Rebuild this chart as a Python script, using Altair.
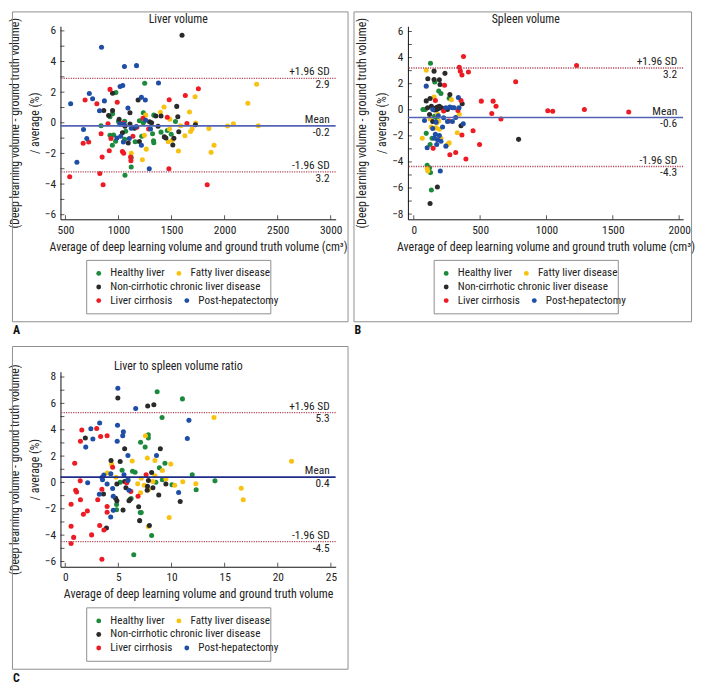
import altair as alt
import pandas as pd

FONT = "Liberation Sans Narrow, Arial Narrow, Roboto Condensed, Liberation Sans, sans-serif"

GROUP_CODES = {"H": "Healthy liver", "F": "Fatty liver disease",
               "N": "Non-cirrhotic chronic liver disease",
               "C": "Liver cirrhosis", "P": "Post-hepatectomy"}
GROUP_COLORS = {"H": "#1c8a3c", "F": "#f8c212", "N": "#2a2a2a", "C": "#ec1b24", "P": "#1f4ea6"}
LEGEND_ROWS = [["H", "F"], ["N"], ["C", "P"]]

# ---------------- Panel A: liver volume ----------------
liver_H = [(975,1.97),(1247,2.58),(944,0.59),(920,0.40),(836,-0.19),(920,-0.82),(954,-0.80),
           (942,-1.47),(973,-1.20),(1000,0.08),(1058,0.10),(1068,-0.55),(1058,-1.07),(1061,-3.42),
           (1120,-2.89),(1120,-2.26),(1197,0.13),(1234,0.65),(1234,0.00),(1157,-1.24),(1219,-0.88),
           (1321,-0.71),(1330,-1.17),(1333,-1.30),(1333,0.50),(1401,-0.61),(1460,-0.50),(1497,-0.75),
           (1537,0.08)]
liver_F = [(1429,1.03),(1395,0.69),(1256,0.50),(1244,-0.82),(1262,-1.72),(1225,-2.41),(1120,-1.99),
           (1484,0.23),(1481,-0.40),(1469,-1.24),(1509,-1.13),(1565,-1.84),(1586,-0.19),(1626,-0.84),
           (1669,0.71),(1722,1.70),(1679,-0.57),(1694,-0.40),(1728,-0.02),(1852,-0.38),(1873,-1.93),
           (1901,-1.47),(2028,-0.21),(2083,-0.06),(2219,1.28),(2302,2.52),(2318,-0.19)]
liver_N = [(1599,5.72),(944,1.93),(944,0.80),(861,0.80),(907,0.48),(1006,0.23),(1018,-0.08),
           (1037,-0.65),(1061,-0.23),(1108,0.65),(1108,-0.08),(1092,-1.32),(1151,-0.36),(1185,1.49),
           (1197,-1.22),(1293,0.06),(1312,0.00),(1352,0.44),(1373,-0.23),(1401,0.44),(1432,-0.92),
           (1447,-0.99),(1512,-1.45),(1522,-1.01),(1549,1.07),(1559,0.40),(1568,-0.59),(1725,-0.13)]
liver_C = [(540,-3.52),(685,1.49),(667,-1.34),(719,-1.26),(796,1.24),(836,-0.71),(846,-2.24),
           (824,-3.31),(855,-4.05),(920,2.18),(988,1.34),(901,-0.06),(929,-1.03),(913,-1.82),
           (1037,-1.87),(1049,-1.99),(1114,-2.24),(1117,-2.47),(1136,-0.88),(1173,-0.29),(1231,0.29),
           (1284,-0.40),(1478,1.51),(1460,0.36),(1475,-3.00),(1630,1.78),(1645,-0.04),(1753,2.22),
           (1836,-4.05),(1046,-0.02)]
liver_P = [(549,1.24),(840,4.93),(1056,3.67),(1170,3.73),(1377,2.60),(725,1.91),(756,1.57),
           (867,1.43),(821,0.78),(1015,2.37),(1040,2.43),(1089,0.96),(1216,1.66),(1253,1.49),
           (670,-0.44),(701,-1.03),(608,-2.58),(1290,-3.00),(1216,-1.47),(1046,-1.26),(1102,-1.03),
           (1021,-0.88),(985,-0.99),(1120,-0.36),(1167,-0.25),(1012,-0.08),(1052,-0.10),(1256,0.17),
           (1302,-0.40)]
liver_stats = [2.9, -0.2, -3.2]          # upper, mean, lower
liver_stat_text = ["2.9", "-0.2", "3.2"]
liver_xticks = [500, 1000, 1500, 2000, 2500, 3000]
liver_yticks = list(range(-6, 7))

# ---------------- Panel B: spleen volume ----------------
spleen_H = [(126,3.57),(158,2.13),(188,1.44),(205,1.25),(267,0.88),(69,0.02),(86,0.02),(225,0.02),
            (156,-0.51),(175,-0.64),(94,-1.81),(138,-2.18),(123,-2.67),(101,-4.25),(119,-4.45),
            (126,-4.82),(133,-6.16)]
spleen_F = [(94,3.03),(153,0.98),(284,0.76),(180,-0.34),(343,-0.34),(123,-0.71),(175,-1.00),
            (188,-0.86),(131,-1.32),(168,-1.39),(193,-1.49),(64,-2.18),(205,-2.18),(267,-2.54),
            (254,-2.67),(328,-1.76),(101,-4.50),(106,-4.69)]
spleen_N = [(153,2.96),(235,2.79),(106,2.37),(153,2.32),(193,2.30),(198,1.93),(272,1.17),(123,0.86),
            (94,0.68),(104,0.15),(133,0.27),(168,0.15),(180,0.20),(193,0.27),(210,0.15),(158,-0.02),
            (173,0.02),(188,0.10),(230,-0.02),(254,0.02),(365,0.46),(119,-0.37),(143,-0.90),
            (356,-1.22),(790,-2.27),(178,-5.92),(123,-7.19)]
spleen_C = [(375,4.08),(343,3.25),(351,2.96),(363,2.67),(412,2.89),(232,1.88),(163,0.71),(356,0.71),
            (333,-0.05),(225,-0.10),(264,-0.86),(146,-2.96),(272,-3.45),(316,-3.28),(363,-1.93),
            (393,-3.77),(447,-1.61),(496,-2.67),(509,0.66),(598,0.66),(620,0.27),(588,-0.29),
            (657,-0.71),(768,2.15),(1010,-0.07),(1047,-0.12),(1227,3.40),(1286,0.02),(1620,-0.17)]
spleen_P = [(94,1.81),(336,0.93),(143,0.02),(242,0.15),(272,0.20),(291,0.15),(304,0.15),(341,0.15),
            (81,-0.83),(185,-0.46),(225,-0.61),(254,-0.90),(291,-0.90),(316,-0.59),(373,-1.08),
            (168,-0.95),(217,-1.32),(143,-1.44),(163,-1.88),(193,-1.98),(156,-2.18),(180,-2.30),
            (205,-2.42),(173,-2.67),(242,-2.79),(101,-2.91),(200,-4.69)]
spleen_stats = [3.2, -0.6, -4.35]
spleen_stat_text = ["3.2", "-0.6", "-4.3"]
spleen_xticks = [0, 500, 1000, 1500, 2000]
spleen_yticks = list(range(-8, 7))

# ---------------- Panel C: liver to spleen volume ratio ----------------
ratio_H = [(8.65,6.88),(11.03,6.34),(9.11,4.93),(7.82,3.61),(7.82,3.37),(7.09,3.05),(7.52,2.68),
           (5.35,0.93),(6.33,0.85),(6.57,0.78),(8.86,1.12),(9.38,1.46),(11.95,0.59),(12.32,-0.56),
           (14.09,0.12),(9.14,0.20),(10.05,-0.17),(5.17,0.02),(8.53,0.02),(5.90,0.22),(6.20,-1.22),
           (4.83,-1.68),(4.83,-2.07),(7.06,-2.29),(7.15,-2.29),(8.13,-4.02),(6.45,-5.49)]
ratio_F = [(14.0,4.93),(21.3,1.61),(7.55,3.54),(7.73,1.85),(6.30,1.63),(8.44,1.66),(9.93,1.39),
           (9.14,0.90),(4.37,1.37),(3.97,0.71),(4.77,0.39),(6.82,-0.10),(7.15,0.32),(7.43,-0.22),
           (8.25,0.07),(8.44,0.51),(9.47,0.27),(10.30,-0.22),(11.06,0.05),(12.29,-0.10),
           (16.56,-0.44),(16.75,-1.32),(7.09,-0.78),(7.83,-0.56),(9.78,-2.66),(7.82,-3.34)]
ratio_N = [(4.95,6.41),(7.76,5.80),(8.34,5.90),(1.89,3.37),(5.59,2.56),(4.31,1.66),(5.17,1.59),
           (8.95,2.56),(3.60,-0.88),(4.86,-0.12),(4.86,-1.39),(4.74,-1.20),(5.59,0.07),(5.71,-0.41),
           (6.00,-1.39),(6.10,-1.29),(7.74,-0.29),(7.71,-0.59),(7.83,0.15),(8.13,0.76),(8.25,-0.41),
           (8.80,-0.95),(9.47,-0.12),(10.82,-1.44),(6.91,-1.85),(3.88,-3.46),(5.44,-2.10),
           (7.00,-2.90),(7.92,-3.27)]
ratio_C = [(0.55,-3.32),(0.89,1.46),(1.56,3.98),(1.43,3.12),(2.96,4.10),(3.33,3.49),(3.94,3.54),
           (0.98,-0.59),(1.07,-0.73),(1.43,-1.32),(0.55,-1.66),(1.41,0.12),(1.71,-2.41),(2.08,-2.17),
           (3.06,-1.32),(3.45,-0.51),(3.94,-1.83),(4.46,1.15),(5.78,-0.02),(6.17,-0.68),(6.85,-1.05),
           (7.61,0.59),(3.94,-2.27),(0.79,-4.17),(0.55,-4.63),(2.48,-3.98),(3.24,-3.27),(3.64,-3.61),
           (3.45,-5.83)]
ratio_P = [(4.95,7.15),(6.63,5.61),(11.64,4.71),(11.49,3.34),(2.41,4.07),(3.24,4.51),(2.60,3.29),
           (1.93,2.68),(4.92,4.34),(4.89,3.12),(5.47,3.85),(5.41,3.54),(5.90,2.05),(8.59,2.05),
           (2.11,-0.02),(3.21,-0.90),(3.45,0.37),(3.51,0.20),(3.63,0.56),(4.29,0.66),(4.46,-0.46),
           (4.52,-1.05),(5.53,0.59),(5.90,0.15),(6.00,-0.59),(4.28,-2.63),(10.67,-0.76),(3.94,-0.12),
           (4.52,-2.12)]
ratio_stats = [5.3, 0.4, -4.5]
ratio_stat_text = ["5.3", "0.4", "-4.5"]
ratio_xticks = [0, 5, 10, 15, 20, 25]
ratio_yticks = list(range(-6, 9))

STAT_NAMES = ["+1.96 SD", "Mean", "-1.96 SD"]
Y_TITLE = ["(Deep learning volume - ground truth volume)", "/ average (%)"]
FRAME_COLOR = "#8f8f8f"
SD_COLOR = "#b04a58"
TEXT_COLOR = "#222222"


def build_df(groups, codes):
    rows = []
    for code, pts in groups:
        if code in codes:
            for x, y in pts:
                rows.append({"x": x, "y": y, "group": GROUP_CODES[code]})
    return pd.DataFrame(rows)


def panel(groups, title, xdom, xticks, xtitle, ydom, yticks, stats, stat_text,
          mean_color, W, H, fl, fr, ft, fb, title_y, letter):
    xs = alt.Scale(domain=xdom, nice=False, zero=False)
    ys = alt.Scale(domain=ydom, nice=False, zero=False)
    x_axis = alt.Axis(values=xticks, format="d", ticks=False, grid=False, labelPadding=5,
                      title=xtitle, titlePadding=6)
    y_axis = alt.Axis(values=yticks, ticks=False, grid=False, labelPadding=5,
                      labelExpr="datum.value % 2 === 0 ? datum.label : ''",
                      title=Y_TITLE, titlePadding=3, titleLineHeight=20)
    X = alt.X("x:Q", scale=xs, axis=x_axis)
    Y = alt.Y("y:Q", scale=ys, axis=y_axis)
    one = pd.DataFrame({"k": [0]})

    lg_left = 26
    lg_top = H + 41
    point_layers = []
    for r, codes in enumerate(LEGEND_ROWS):
        names = [GROUP_CODES[c] for c in codes]
        cols = [GROUP_COLORS[c] for c in codes]
        point_layers.append(
            alt.Chart(build_df(groups, codes)).mark_circle(size=26, opacity=1).encode(
                x=X, y=Y,
                color=alt.Color("group:N", scale=alt.Scale(domain=names, range=cols),
                                legend=alt.Legend(orient="none", direction="horizontal",
                                                  legendX=lg_left + 7, legendY=lg_top + 8 + 13.7 * r,
                                                  title=None, columns=2, columnPadding=8,
                                                  padding=0, symbolType="circle", symbolSize=24,
                                                  symbolStrokeWidth=0, labelFont=FONT,
                                                  labelFontSize=11.3, labelColor=TEXT_COLOR,
                                                  labelLimit=400, labelOffset=6))))

    frame = alt.Chart(one).mark_rect(fill="transparent", stroke=FRAME_COLOR, strokeWidth=1).encode(
        x=alt.value(fl + 0.5), x2=alt.value(fr - 0.5), y=alt.value(ft + 0.5), y2=alt.value(fb - 0.5))
    legend_box = alt.Chart(one).mark_rect(fill="white", stroke=FRAME_COLOR, strokeWidth=1).encode(
        x=alt.value(lg_left + 0.5), x2=alt.value(lg_left + 186.5),
        y=alt.value(lg_top + 0.5), y2=alt.value(lg_top + 54.5))

    ytick_layer = alt.Chart(pd.DataFrame({"y": yticks})).mark_tick(
        color="#111", thickness=1, size=4).encode(y=Y, x=alt.value(2))
    xtick_layer = alt.Chart(pd.DataFrame({"x": xticks})).mark_tick(
        color="#111", thickness=1, size=4).encode(x=X, y=alt.value(H - 2))

    sdf = pd.DataFrame({"y": stats, "name": STAT_NAMES, "val": stat_text,
                        "kind": ["sd", "mean", "sd"]})
    sd_rules = alt.Chart(sdf).transform_filter("datum.kind == 'sd'").mark_rule(
        color=SD_COLOR, strokeWidth=1.3, strokeDash=[1.2, 1.2]).encode(y=Y)
    mean_rule = alt.Chart(sdf).transform_filter("datum.kind == 'mean'").mark_rule(
        color=mean_color, strokeWidth=1.6).encode(y=Y)
    txt_top = alt.Chart(sdf).mark_text(
        align="right", baseline="bottom", dy=-1, font=FONT, fontSize=11.5, color=TEXT_COLOR).encode(
        y=Y, x=alt.value(W - 6), text="name:N")
    txt_bot = alt.Chart(sdf).mark_text(
        align="right", baseline="top", dy=1, font=FONT, fontSize=11.5, color=TEXT_COLOR).encode(
        y=Y, x=alt.value(W - 6), text="val:N")

    title_mark = alt.Chart(one).mark_text(
        align="center", baseline="middle", font=FONT, fontSize=12, color=TEXT_COLOR).encode(
        x=alt.value(119), y=alt.value(title_y), text=alt.value(title))
    letter_mark = alt.Chart(one).mark_text(
        align="left", baseline="middle", font=FONT, fontSize=12, fontWeight="bold",
        color="#111").encode(
        x=alt.value(fl + 1), y=alt.value(fb + 8), text=alt.value(letter))

    layers = point_layers + [frame, legend_box, sd_rules, mean_rule, ytick_layer, xtick_layer,
                             txt_top, txt_bot, title_mark, letter_mark]
    return alt.layer(*layers).resolve_scale(color="independent").resolve_legend(
        color="independent").properties(width=W, height=H)


W = 278
HA = 195
HC = 197
XT_VOL = "Average of deep learning volume and ground truth volume (cm\u00b3)"

pA = panel([("H", liver_H), ("F", liver_F), ("N", liver_N), ("C", liver_C), ("P", liver_P)],
           "Liver volume", [453, 3047], liver_xticks, XT_VOL, [-6.3, 6.3], liver_yticks,
           liver_stats, liver_stat_text, "#5563b5", W, HA, -49, 291, -15, HA + 104, -7, "A")
pB = panel([("H", spleen_H), ("F", spleen_F), ("N", spleen_N), ("C", spleen_C), ("P", spleen_P)],
           "Spleen volume", [-44, 2030], spleen_xticks, XT_VOL, [-8.4, 6.4], spleen_yticks,
           spleen_stats, spleen_stat_text, "#5563b5", W, HA, -55, 287, -15, HA + 104, -7, "B")
pC = panel([("H", ratio_H), ("F", ratio_F), ("N", ratio_N), ("C", ratio_C), ("P", ratio_P)],
           "Liver to spleen volume ratio", [-0.45, 25.45], ratio_xticks,
           "Average of deep learning volume and ground truth volume", [-6.4, 8.4], ratio_yticks,
           ratio_stats, ratio_stat_text, "#1f2c8a", W, HC, -49, 291, -26, HC + 104, -6, "C")

row1 = alt.hconcat(pA, pB, spacing=5).resolve_scale(color="independent").resolve_legend(color="independent")
chart = alt.vconcat(row1, pC, spacing=10).resolve_scale(color="independent").resolve_legend(
    color="independent").properties(padding=0, background="white").configure_view(
    strokeWidth=0).configure_axis(
    domainColor="#111", domainWidth=1, labelFont=FONT, labelFontSize=11.5, labelColor=TEXT_COLOR,
    titleFont=FONT, titleFontSize=12, titleFontWeight="normal", titleColor=TEXT_COLOR)

chart.save("out.html", embed_options={"renderer": "svg", "actions": False})
